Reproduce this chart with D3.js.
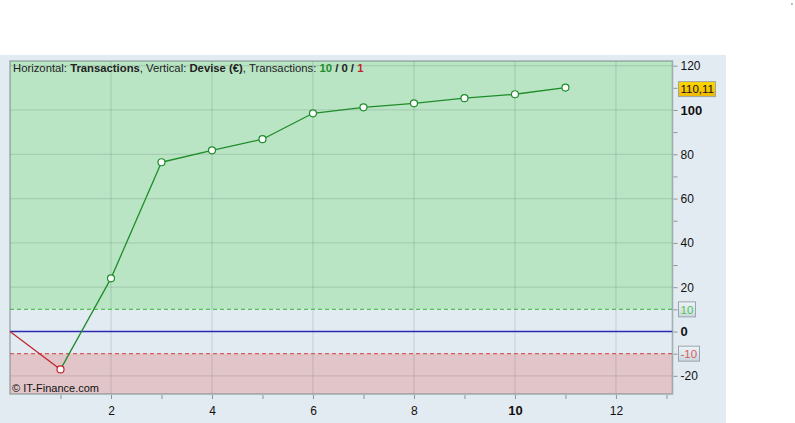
<!DOCTYPE html>
<html><head><meta charset="utf-8">
<script src="https://cdn.jsdelivr.net/npm/d3@7"></script>
<style>
html,body{margin:0;padding:0;background:#fff;}
svg{display:block;font-family:Arial,"Liberation Sans",sans-serif;}
</style></head>
<body>
<svg id="chart" width="795" height="423"></svg>
<script>
// ---- data ----
const transactions = [0,1,2,3,4,5,6,7,8,9,10,11];
const balance = [0,-17.1,24.0,76.4,81.8,86.8,98.5,101.2,103.0,105.3,107.1,110.11];
const xTickLabels = [2,4,6,8,10,12];
const xMinorTicks = [1,3,5,7,9,11,13];
const yTickLabels = [-20,0,20,40,60,80,100,120];
const yMinorTicks = [-10,10,30,50,70,90,110];
const upperLevel = 10, lowerLevel = -10;
const lastLabel = "110,11";
const counts = {win:10, flat:0, loss:1};

// ---- layout ----
const svg = d3.select("#chart");
const L = 10, R = 672.5, T = 61, B = 394;
const x = d3.scaleLinear().domain([0, 13.12]).range([L, R]);
const y = d3.scaleLinear().domain([-28.2, 122.1]).range([B, T]);

const green = "#1f8c2a", red = "#c0262c";

// panel background
svg.append("rect").attr("x",0).attr("y",55).attr("width",726).attr("height",368).attr("fill","#e3ebf2");

// zones
svg.append("rect").attr("x",L).attr("y",T).attr("width",R-L).attr("height",y(upperLevel)-T).attr("fill","#b9e5c5");
svg.append("rect").attr("x",L).attr("y",y(lowerLevel)).attr("width",R-L).attr("height",B-y(lowerLevel)).attr("fill","#e2c5c9");

// grid
const grid = svg.append("g");
xTickLabels.forEach(v=>{
  grid.append("line").attr("x1",x(v)).attr("x2",x(v)).attr("y1",T).attr("y2",B)
    .attr("stroke","rgba(70,90,90,0.16)").attr("stroke-width",1.2);
});
yTickLabels.filter(v=>v!==0).forEach(v=>{
  grid.append("line").attr("x1",L).attr("x2",R).attr("y1",y(v)).attr("y2",y(v))
    .attr("stroke","rgba(70,90,90,0.16)").attr("stroke-width",1.2);
});

// level lines
svg.append("line").attr("x1",L).attr("x2",R).attr("y1",y(upperLevel)).attr("y2",y(upperLevel))
  .attr("stroke","#55c055").attr("stroke-dasharray","4,3").attr("stroke-width",1.2);
svg.append("line").attr("x1",L).attr("x2",R).attr("y1",y(lowerLevel)).attr("y2",y(lowerLevel))
  .attr("stroke","#d06060").attr("stroke-dasharray","4,3").attr("stroke-width",1.2);
svg.append("line").attr("x1",L).attr("x2",R).attr("y1",y(0)).attr("y2",y(0))
  .attr("stroke","#2a2ab0").attr("stroke-width",1.3);

// border
svg.append("rect").attr("x",L).attr("y",T).attr("width",R-L).attr("height",B-T)
  .attr("fill","none").attr("stroke","rgba(110,130,125,0.55)").attr("stroke-width",1.6);

// x axis
const xAxis = d3.axisBottom(x).tickValues(xTickLabels.concat(xMinorTicks)).tickSize(4).tickPadding(7)
  .tickFormat(d=> xTickLabels.includes(d) ? d : "");
const gx = svg.append("g").attr("transform",`translate(0,${B+1})`).call(xAxis);
gx.select(".domain").remove();
gx.selectAll(".tick line").attr("stroke","#8a9499");
gx.selectAll(".tick text").attr("fill","#111")
  .attr("font-weight",d=>d===10?"bold":"normal").attr("font-size",d=>d===10?13:12);

// y axis
const yAxis = d3.axisRight(y).tickValues(yTickLabels.concat(yMinorTicks)).tickSize(4).tickPadding(3)
  .tickFormat(d=> yTickLabels.includes(d) ? d : "");
const gy = svg.append("g").attr("transform",`translate(${R+1},0)`).call(yAxis);
gy.select(".domain").remove();
gy.selectAll(".tick line").attr("stroke","#8a9499");
gy.selectAll(".tick text").attr("fill","#111").attr("font-size",d=>(d===100||d===0)?13:12)
  .attr("font-weight",d=>(d===100||d===0)?"bold":"normal");

// series segments
for(let i=1;i<transactions.length;i++){
  const up = balance[i] >= balance[i-1];
  svg.append("line").attr("x1",x(transactions[i-1])).attr("y1",y(balance[i-1]))
    .attr("x2",x(transactions[i])).attr("y2",y(balance[i]))
    .attr("stroke", up?green:red).attr("stroke-width",1.3);
}
for(let i=1;i<transactions.length;i++){
  const up = balance[i] >= balance[i-1];
  svg.append("circle").attr("cx",x(transactions[i])).attr("cy",y(balance[i])).attr("r",3.5)
    .attr("fill","#fff").attr("stroke", up?green:red).attr("stroke-width",1.2);
}

// label boxes
const defs = svg.append("defs");
const gb = defs.append("linearGradient").attr("id","gbox").attr("x1",0).attr("x2",0).attr("y1",0).attr("y2",1);
gb.append("stop").attr("offset","0").attr("stop-color","#eef4f8");
gb.append("stop").attr("offset","1").attr("stop-color","#c9d7df");
const gy2 = defs.append("linearGradient").attr("id","ybox").attr("x1",0).attr("x2",0).attr("y1",0).attr("y2",1);
gy2.append("stop").attr("offset","0").attr("stop-color","#ffd700");
gy2.append("stop").attr("offset","1").attr("stop-color","#f0b800");

function box(val, text, w, fill, color){
  const cy = y(val);
  svg.append("rect").attr("x",678.5).attr("y",cy-7.5).attr("width",w).attr("height",15)
    .attr("fill",fill).attr("stroke","#9aa5ab").attr("stroke-width",1);
  svg.append("text").attr("x",680.5).attr("y",cy+4.3).attr("font-size",11.5).attr("fill",color).text(text);
}
box(upperLevel, String(upperLevel), 17, "url(#gbox)", "#4fc84f");
box(lowerLevel, String(lowerLevel), 21, "url(#gbox)", "#dd5a5a");
box(balance[balance.length-1]-0.7, lastLabel, 37, "url(#ybox)", "#111");

// title
const t = svg.append("text").attr("x",13).attr("y",72).attr("font-size",11.3).attr("fill","#222");
t.append("tspan").text("Horizontal: ");
t.append("tspan").attr("font-weight","bold").text("Transactions");
t.append("tspan").text(", Vertical: ");
t.append("tspan").attr("font-weight","bold").text("Devise (€)");
t.append("tspan").text(", Transactions: ");
t.append("tspan").attr("font-weight","bold").attr("fill",green).text(counts.win);
t.append("tspan").attr("font-weight","bold").text(" / ");
t.append("tspan").attr("font-weight","bold").text(counts.flat);
t.append("tspan").attr("font-weight","bold").text(" / ");
t.append("tspan").attr("font-weight","bold").attr("fill",red).text(counts.loss);

// copyright
svg.append("text").attr("x",12).attr("y",391.5).attr("font-size",11).attr("fill","#111").text("© IT-Finance.com");

// small corner mark
svg.append("text").attr("x",791).attr("y",9).attr("font-size",9).attr("fill","#555").text("'");
</script>
</body></html>
